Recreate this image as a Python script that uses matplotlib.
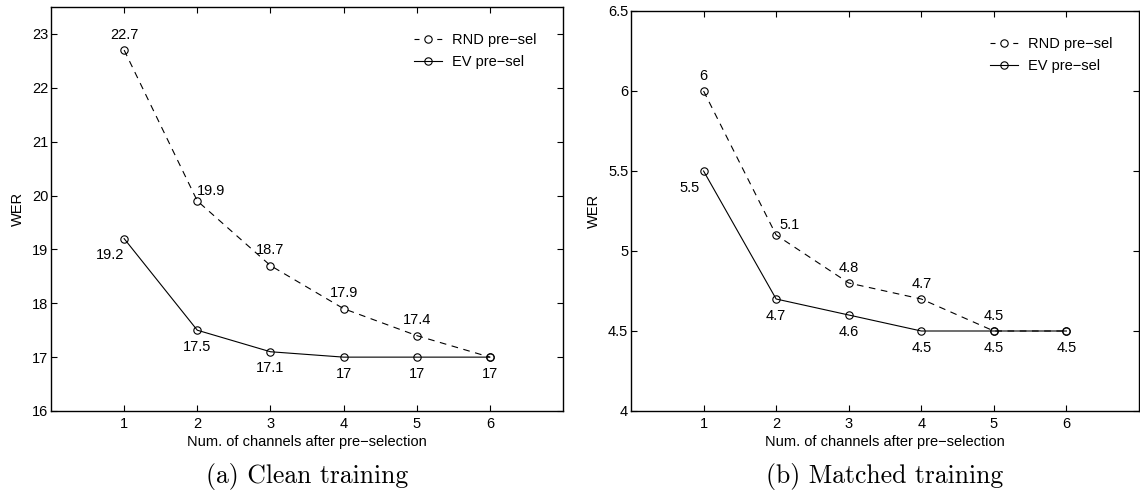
import matplotlib
matplotlib.use("Agg")
import matplotlib.pyplot as plt

plt.rcParams['font.family'] = ['Liberation Sans', 'DejaVu Sans']
plt.rcParams['font.size'] = 10.5

# Daten
channels = [1, 2, 3, 4, 5, 6]
clean_rnd = [22.7, 19.9, 18.7, 17.9, 17.4, 17.0]
clean_ev = [19.2, 17.5, 17.1, 17.0, 17.0, 17.0]
matched_rnd = [6.0, 5.1, 4.8, 4.7, 4.5, 4.5]
matched_ev = [5.5, 4.7, 4.6, 4.5, 4.5, 4.5]

clean_rnd_labels = ['22.7', '19.9', '18.7', '17.9', '17.4', None]
clean_ev_labels = ['19.2', '17.5', '17.1', '17', '17', '17']
matched_rnd_labels = ['6', '5.1', '4.8', '4.7', '4.5', None]
matched_ev_labels = ['5.5', '4.7', '4.6', '4.5', '4.5', '4.5']

clean_yticks = [16, 17, 18, 19, 20, 21, 22, 23]
matched_yticks = [4, 4.5, 5, 5.5, 6, 6.5]
captions = ['(a) Clean training', '(b) Matched training']


def draw_panel(ax, rnd, ev, rnd_labels, ev_labels, ylim, yticks):
    ax.plot(channels, rnd, color='black', linewidth=0.8, linestyle=(0, (6, 5)),
            marker='o', markersize=5.3, markerfacecolor='none', markeredgewidth=0.8,
            label='RND pre\u2212sel')
    ax.plot(channels, ev, color='black', linewidth=0.8, linestyle='-',
            marker='o', markersize=5.3, markerfacecolor='none', markeredgewidth=0.8,
            label='EV pre\u2212sel')

    # Beschriftung der Punkte
    for i, (x, y, lab) in enumerate(zip(channels, rnd, rnd_labels)):
        if lab is None:
            continue
        off = (10, 7) if i == 1 else (0, 11)
        ax.annotate(lab, (x, y), xytext=off, textcoords='offset points',
                    ha='center', va='center', fontsize=10.5)
    for i, (x, y, lab) in enumerate(zip(channels, ev, ev_labels)):
        off = (-10, -12) if i == 0 else (0, -12)
        ax.annotate(lab, (x, y), xytext=off, textcoords='offset points',
                    ha='center', va='center', fontsize=10.5)

    ax.set_xlim(0, 7)
    ax.set_ylim(*ylim)
    ax.set_xticks(channels)
    ax.set_yticks(yticks)
    ax.set_yticklabels([f'{t:g}' for t in yticks])
    ax.tick_params(direction='in', top=True, right=True, length=4, width=0.8,
                   labelsize=10.5)
    ax.tick_params(axis='x', pad=4)
    ax.tick_params(axis='y', pad=2)
    for s in ax.spines.values():
        s.set_linewidth(1.0)
    ax.set_xlabel('Num. of channels after pre\u2212selection', fontsize=10.5, labelpad=3)
    ax.set_ylabel('WER', fontsize=10.5, labelpad=5)
    leg = ax.legend(loc='upper right', frameon=False, fontsize=10.5, handlelength=1.9,
                    handletextpad=0.7, labelspacing=0.55, borderaxespad=1.4)
    # Legende: ein kurzer Strich links und rechts vom Kreis
    leg.get_lines()[0].set_linestyle((0, (4.5, 16)))


fig = plt.figure(figsize=(11.4, 4.92), dpi=100)
ax1 = fig.add_axes([51 / 1140, 1 - 411 / 492, 512 / 1140, 404 / 492])
ax2 = fig.add_axes([631 / 1140, 1 - 411 / 492, 508 / 1140, 400 / 492])

draw_panel(ax1, clean_rnd, clean_ev, clean_rnd_labels, clean_ev_labels, (16, 23.5), clean_yticks)
draw_panel(ax2, matched_rnd, matched_ev, matched_rnd_labels, matched_ev_labels, (4, 6.5), matched_yticks)

for ax, cap in zip([ax1, ax2], captions):
    pos = ax.get_position()
    fig.text((pos.x0 + pos.x1) / 2, 1 - 477 / 492, cap, ha='center', va='center',
             fontsize=18.5, family='cmr10')

fig.savefig('out.png', dpi=100)
